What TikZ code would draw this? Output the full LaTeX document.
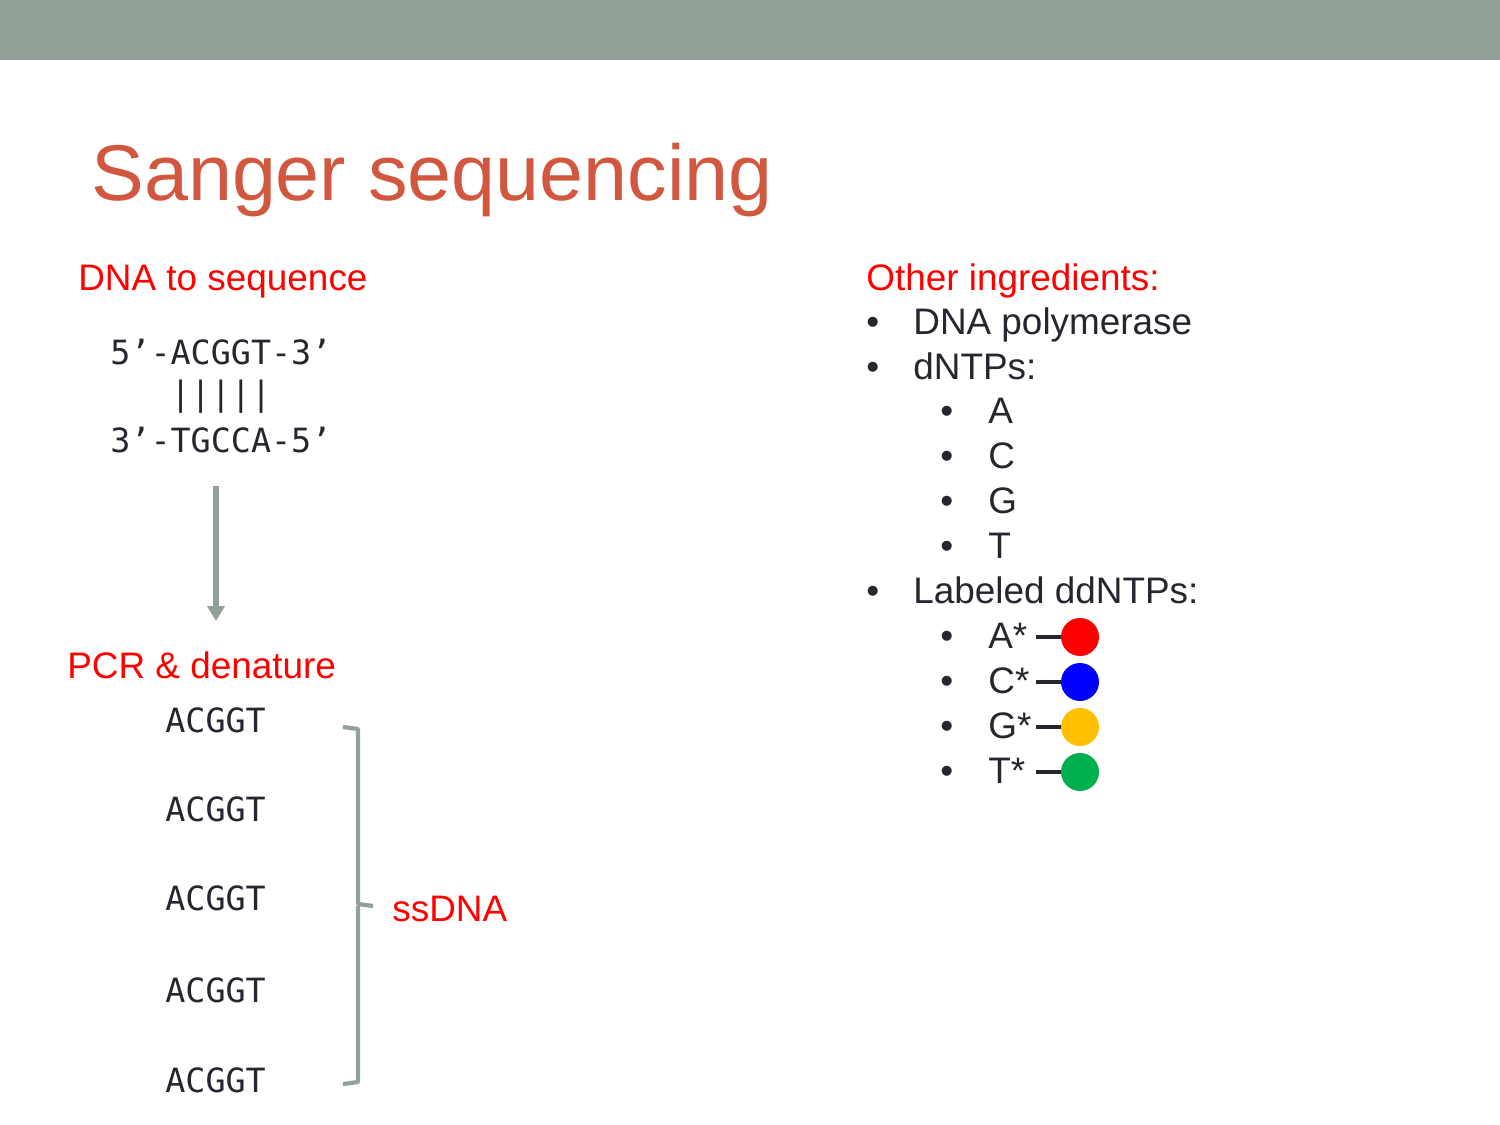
\documentclass[tikz,border=0pt]{standalone}
\usepackage{fontspec}
\setmainfont{Liberation Sans}
\newfontfamily\seqfont{DejaVu Sans Mono}
\usetikzlibrary{arrows.meta}
\definecolor{bar}{RGB}{145,161,151}
\definecolor{titlered}{RGB}{209,88,62}
\definecolor{ink}{RGB}{38,38,48}
\definecolor{ddA}{RGB}{255,0,0}
\definecolor{ddC}{RGB}{0,0,255}
\definecolor{ddG}{RGB}{255,192,0}
\definecolor{ddT}{RGB}{0,176,80}
\tikzset{
  txt/.style={anchor=base west, inner sep=0pt, text=ink, font=\fontsize{21pt}{25pt}\selectfont},
  head/.style={txt, text=red},
  seq/.style={anchor=base west, inner sep=0pt, text=ink, font=\seqfont\fontsize{19pt}{23pt}\selectfont},
  dot/.style={circle, inner sep=0pt, minimum size=0.76cm, fill=#1},
  stick/.style={line width=2.3pt, draw=ink},
}

\begin{document}
\begin{tikzpicture}[x=0.02cm,y=-0.02cm]
\useasboundingbox (0,0) rectangle (1500,1125);
\fill[bar] (0,0) rectangle (1500,60);
\node[anchor=base west, inner sep=0pt, text=titlered, font=\fontsize{45pt}{54pt}\selectfont] (title) at (91,200) {Sanger sequencing};

\node[head] (dnahead) at (78,290) {DNA to sequence};
\node[seq] (top) at (110,364) {5’-ACGGT-3’};
\node[seq] (pairs) at (110,405) {\phantom{5’-}|||||};
\node[seq] (bottom) at (110,452) {3’-TGCCA-5’};
\coordinate (arrS) at (216,486);
\coordinate (arrE) at (216,621);
\draw[bar, line width=3.2pt, -{Triangle[length=0.3cm,width=0.34cm]}] (arrS) -- (arrE);

\node[head] (pcr) at (67,678) {PCR \& denature};
\foreach \y [count=\i] in {732,821,910,1002,1092} {
    \node[seq] (ss\i) at (165,\y) {ACGGT};
}
\draw[bar, line width=2.4pt, line join=round] (343,727) -- (358,729) -- (358,904) -- (373,906);
\draw[bar, line width=2.4pt, line join=round] (358,906) -- (358,1082) -- (343,1084);
\node[head] (ssdna) at (392,921) {ssDNA};

\node[head] (other) at (866,290) {Other ingredients:};
\node[txt] (b1) at (866,334) {•};
\node[txt] (poly) at (913,334) {DNA polymerase};
\node[txt] (b2) at (866,379) {•};
\node[txt] (dntp) at (913,379) {dNTPs:};
\foreach \b [count=\i] in {A,C,G,T} {
    \node[txt] (bn\b) at (940,378+45*\i) {•};
    \node[txt] (nt\b) at (988,378+45*\i) {\b};
}
\node[txt] (b3) at (866,603) {•};
\node[txt] (lab) at (913,603) {Labeled ddNTPs:};
\foreach \b [count=\i] in {A,C,G,T} {
    \node[txt] (bd\b) at (940,603+45*\i) {•};
    \node[txt] (dd\b) at (988,603+45*\i) {\b*};
    \coordinate (st\b) at (1036,592+45*\i);
    \node[dot=dd\b] (c\b) at (1080,592+45*\i) {};
    \draw[stick] (st\b) -- (c\b);
}
\end{tikzpicture}
\end{document}
